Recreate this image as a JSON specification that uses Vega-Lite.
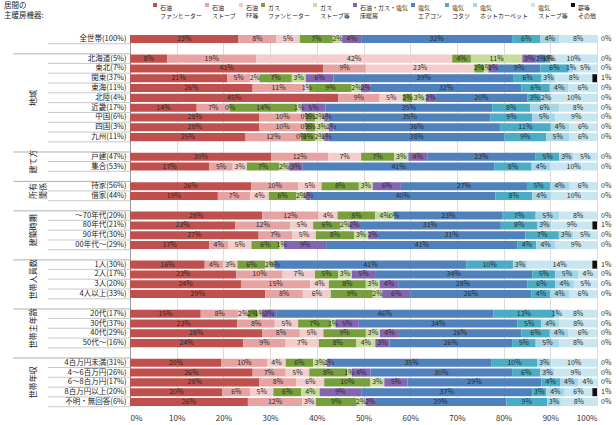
{
  "$schema": "https://vega.github.io/schema/vega-lite/v6.json",
  "width": 467,
  "height": 371,
  "autosize": {"type": "none"},
  "padding": {"left": 130, "top": 35, "right": 19, "bottom": 19},
  "config": {"font": "Noto Sans CJK JP", "view": {"stroke": null}},
  "data": {"values": [
    {"r": "全世帯(100%)", "a": 0.23, "b": 0.08, "c": 0.05, "d": 0.07, "e": 0.02, "f": 0.04, "g": 0.32, "h": 0.06, "i": 0.04, "j": 0.08, "k": 0.0},
    {"r": "北海道(5%)", "a": 0.08, "b": 0.19, "c": 0.42, "d": 0.04, "e": 0.11, "f": 0.03, "g": 0.02, "h": 0.01, "i": 0.0, "j": 0.10, "k": 0.0},
    {"r": "東北(7%)", "a": 0.41, "b": 0.09, "c": 0.23, "d": 0.02, "e": 0.01, "f": 0.02, "g": 0.09, "h": 0.06, "i": 0.01, "j": 0.05, "k": 0.0},
    {"r": "関東(37%)", "a": 0.21, "b": 0.05, "c": 0.02, "d": 0.07, "e": 0.03, "f": 0.06, "g": 0.39, "h": 0.06, "i": 0.03, "j": 0.08, "k": 0.01},
    {"r": "東海(11%)", "a": 0.26, "b": 0.11, "c": 0.01, "d": 0.09, "e": 0.02, "f": 0.02, "g": 0.32, "h": 0.06, "i": 0.04, "j": 0.06, "k": 0.0},
    {"r": "北陸(4%)", "a": 0.45, "b": 0.09, "c": 0.05, "d": 0.02, "e": 0.03, "f": 0.02, "g": 0.20, "h": 0.03, "i": 0.02, "j": 0.10, "k": 0.0},
    {"r": "近畿(17%)", "a": 0.14, "b": 0.07, "c": 0.0, "d": 0.14, "e": 0.01, "f": 0.05, "g": 0.35, "h": 0.08, "i": 0.06, "j": 0.08, "k": 0.0},
    {"r": "中国(6%)", "a": 0.28, "b": 0.10, "c": 0.0, "d": 0.02, "e": 0.02, "f": 0.01, "g": 0.35, "h": 0.09, "i": 0.05, "j": 0.09, "k": 0.0},
    {"r": "四国(3%)", "a": 0.28, "b": 0.10, "c": 0.0, "d": 0.02, "e": 0.03, "f": 0.01, "g": 0.36, "h": 0.11, "i": 0.04, "j": 0.06, "k": 0.0},
    {"r": "九州(11%)", "a": 0.25, "b": 0.12, "c": 0.0, "d": 0.03, "e": 0.02, "f": 0.01, "g": 0.38, "h": 0.09, "i": 0.05, "j": 0.06, "k": 0.0},
    {"r": "戸建(47%)", "a": 0.30, "b": 0.12, "c": 0.07, "d": 0.07, "e": 0.03, "f": 0.04, "g": 0.23, "h": 0.05, "i": 0.03, "j": 0.05, "k": 0.0},
    {"r": "集合(53%)", "a": 0.17, "b": 0.05, "c": 0.03, "d": 0.07, "e": 0.02, "f": 0.03, "g": 0.41, "h": 0.08, "i": 0.04, "j": 0.10, "k": 0.0},
    {"r": "持家(56%)", "a": 0.26, "b": 0.10, "c": 0.05, "d": 0.08, "e": 0.03, "f": 0.06, "g": 0.27, "h": 0.05, "i": 0.04, "j": 0.06, "k": 0.0},
    {"r": "借家(44%)", "a": 0.19, "b": 0.07, "c": 0.04, "d": 0.06, "e": 0.02, "f": 0.01, "g": 0.40, "h": 0.08, "i": 0.04, "j": 0.10, "k": 0.0},
    {"r": "～70年代(20%)", "a": 0.28, "b": 0.12, "c": 0.04, "d": 0.08, "e": 0.04, "f": 0.0, "g": 0.23, "h": 0.07, "i": 0.05, "j": 0.08, "k": 0.0},
    {"r": "80年代(21%)", "a": 0.23, "b": 0.12, "c": 0.05, "d": 0.06, "e": 0.02, "f": 0.02, "g": 0.31, "h": 0.08, "i": 0.03, "j": 0.09, "k": 0.01},
    {"r": "90年代(30%)", "a": 0.27, "b": 0.07, "c": 0.05, "d": 0.08, "e": 0.03, "f": 0.02, "g": 0.31, "h": 0.07, "i": 0.03, "j": 0.05, "k": 0.0},
    {"r": "00年代～(29%)", "a": 0.17, "b": 0.04, "c": 0.05, "d": 0.06, "e": 0.01, "f": 0.09, "g": 0.41, "h": 0.04, "i": 0.04, "j": 0.09, "k": 0.0},
    {"r": "1人(30%)", "a": 0.16, "b": 0.04, "c": 0.03, "d": 0.06, "e": 0.02, "f": 0.0, "g": 0.41, "h": 0.10, "i": 0.03, "j": 0.14, "k": 0.01},
    {"r": "2人(17%)", "a": 0.23, "b": 0.10, "c": 0.07, "d": 0.05, "e": 0.03, "f": 0.05, "g": 0.34, "h": 0.05, "i": 0.05, "j": 0.04, "k": 0.0},
    {"r": "3人(20%)", "a": 0.24, "b": 0.15, "c": 0.04, "d": 0.08, "e": 0.03, "f": 0.04, "g": 0.28, "h": 0.06, "i": 0.04, "j": 0.05, "k": 0.0},
    {"r": "4人以上(33%)", "a": 0.29, "b": 0.08, "c": 0.06, "d": 0.09, "e": 0.02, "f": 0.06, "g": 0.26, "h": 0.04, "i": 0.04, "j": 0.06, "k": 0.0},
    {"r": "20代(17%)", "a": 0.15, "b": 0.08, "c": 0.02, "d": 0.02, "e": 0.01, "f": 0.03, "g": 0.46, "h": 0.13, "i": 0.01, "j": 0.08, "k": 0.0},
    {"r": "30代(37%)", "a": 0.23, "b": 0.08, "c": 0.05, "d": 0.07, "e": 0.01, "f": 0.05, "g": 0.34, "h": 0.05, "i": 0.04, "j": 0.08, "k": 0.0},
    {"r": "40代(29%)", "a": 0.28, "b": 0.08, "c": 0.05, "d": 0.09, "e": 0.03, "f": 0.04, "g": 0.26, "h": 0.06, "i": 0.04, "j": 0.06, "k": 0.0},
    {"r": "50代～(16%)", "a": 0.24, "b": 0.09, "c": 0.07, "d": 0.08, "e": 0.04, "f": 0.03, "g": 0.26, "h": 0.05, "i": 0.05, "j": 0.08, "k": 0.0},
    {"r": "4百万円未満(31%)", "a": 0.20, "b": 0.10, "c": 0.04, "d": 0.06, "e": 0.03, "f": 0.01, "g": 0.35, "h": 0.10, "i": 0.03, "j": 0.10, "k": 0.0},
    {"r": "4～6百万円(26%)", "a": 0.26, "b": 0.07, "c": 0.05, "d": 0.08, "e": 0.01, "f": 0.04, "g": 0.30, "h": 0.06, "i": 0.03, "j": 0.09, "k": 0.0},
    {"r": "6～8百万円(17%)", "a": 0.28, "b": 0.08, "c": 0.06, "d": 0.10, "e": 0.03, "f": 0.05, "g": 0.29, "h": 0.04, "i": 0.04, "j": 0.04, "k": 0.0},
    {"r": "8百万円以上(20%)", "a": 0.20, "b": 0.06, "c": 0.05, "d": 0.06, "e": 0.04, "f": 0.09, "g": 0.37, "h": 0.03, "i": 0.04, "j": 0.06, "k": 0.01},
    {"r": "不明・無回答(6%)", "a": 0.26, "b": 0.12, "c": 0.03, "d": 0.09, "e": 0.02, "f": 0.02, "g": 0.29, "h": 0.09, "i": 0.03, "j": 0.08, "k": 0.0}
  ]},
  "transform": [
    {"fold": ["a", "b", "c", "d", "e", "f", "g", "h", "i", "j", "k"], "as": ["key", "value"]}
  ],
  "layer": [
    {
      "mark": {"type": "bar"},
      "encoding": {
        "y": {
          "field": "r", "type": "nominal",
          "scale": {
            "domain": ["全世帯(100%)", "_s1", "北海道(5%)", "東北(7%)", "関東(37%)", "東海(11%)", "北陸(4%)", "近畿(17%)", "中国(6%)", "四国(3%)", "九州(11%)", "_s2", "戸建(47%)", "集合(53%)", "_s3", "持家(56%)", "借家(44%)", "_s4", "～70年代(20%)", "80年代(21%)", "90年代(30%)", "00年代～(29%)", "_s5", "1人(30%)", "2人(17%)", "3人(20%)", "4人以上(33%)", "_s6", "20代(17%)", "30代(37%)", "40代(29%)", "50代～(16%)", "_s7", "4百万円未満(31%)", "4～6百万円(26%)", "6～8百万円(17%)", "8百万円以上(20%)", "不明・無回答(6%)"],
            "paddingInner": 0.18, "paddingOuter": 0
          },
          "axis": {
            "title": null,
            "labelExpr": "indexof(datum.value, '_s') == 0 ? '' : datum.value",
            "ticks": false, "labelPadding": 4, "labelFontSize": 7.5, "labelColor": "#222",
            "domainColor": "#9a9a9a", "grid": false
          }
        },
        "x": {
          "field": "value", "type": "quantitative", "stack": "normalize",
          "scale": {"domain": [0, 1], "nice": false},
          "axis": {
            "title": null, "format": ".0%",
            "values": [0, 0.1, 0.2, 0.3, 0.4, 0.5, 0.6, 0.7, 0.8, 0.9, 1],
            "domain": false, "ticks": false, "grid": true, "gridColor": "#dcdcdc",
            "labelFontSize": 8, "labelColor": "#333", "labelPadding": 8
          }
        },
        "color": {
          "field": "key", "type": "nominal",
          "scale": {
            "domain": ["a", "b", "c", "d", "e", "f", "g", "h", "i", "j", "k"],
            "range": ["#c0504d", "#e6a3a2", "#f2cdcc", "#77a03c", "#c6dc9c", "#8466b0", "#4f81bd", "#4bacc6", "#a5d5e6", "#c8e6f0", "#111111"]
          },
          "legend": {
            "orient": "none", "legendX": -126, "legendY": -33,
            "direction": "horizontal", "columns": 11,
            "title": ["居間の", "主暖房機器:"], "titleOrient": "left",
            "titleFontSize": 7.5, "titleFontWeight": "normal", "titleColor": "#222",
            "titlePadding": 108,
            "labelExpr": "[['石油','ファンヒーター'],['石油','ストーブ'],['石油','FF等'],['ガス','ファンヒーター'],['ガス','ストーブ等'],['石油・ガス・電気','床暖房'],['電気','エアコン'],['電気','コタツ'],['電気','ホットカーペット'],['電気','ストーブ等'],['薪等','その他']][indexof('abcdefghijk', datum.label)]",
            "labelFontSize": 6, "labelColor": "#222", "labelBaseline": "top",
            "symbolType": "square", "symbolSize": 16, "symbolStrokeWidth": 0,
            "columnPadding": 1, "labelOffset": 2
          }
        },
        "order": {"field": "key", "type": "nominal", "sort": "ascending"}
      }
    },
    {
      "mark": {"type": "text", "fontSize": 7, "color": "#2a2a2a"},
      "encoding": {
        "y": {"field": "r", "type": "nominal"},
        "x": {"field": "value", "type": "quantitative", "stack": "normalize", "bandPosition": 0.5},
        "detail": {"field": "key", "type": "nominal"},
        "order": {"field": "key", "type": "nominal", "sort": "ascending"},
        "text": {"field": "value", "type": "quantitative", "format": ".0%"},
        "opacity": {"condition": {"test": "datum.key == 'k'", "value": 0}, "value": 1}
      }
    },
    {
      "transform": [{"filter": "datum.key == 'k'"}],
      "mark": {"type": "text", "fontSize": 7, "color": "#2a2a2a", "align": "left", "dx": 4},
      "encoding": {
        "y": {"field": "r", "type": "nominal"},
        "x": {"datum": 1, "type": "quantitative"},
        "text": {"field": "value", "type": "quantitative", "format": ".0%"}
      }
    },
    {
      "transform": [{"filter": "datum.key == 'k'"}],
      "mark": {"type": "rule", "color": "#c8c8c8", "strokeWidth": 1},
      "encoding": {
        "y": {"field": "r", "type": "nominal", "bandPosition": 1.09},
        "x": {"datum": -0.176, "type": "quantitative"},
        "x2": {"datum": 0}
      }
    },
    {
      "data": {"values": [
        {"label": "地域", "first": "北海道(5%)", "anchor": "北陸(4%)", "n": 9},
        {"label": "建て方", "first": "戸建(47%)", "anchor": "戸建(47%)", "n": 2},
        {"label": "所有\n関係", "first": "持家(56%)", "anchor": "持家(56%)", "n": 2},
        {"label": "建築時期", "first": "～70年代(20%)", "anchor": "80年代(21%)", "n": 4},
        {"label": "世帯人員数", "first": "1人(30%)", "anchor": "2人(17%)", "n": 4},
        {"label": "世帯主年齢", "first": "20代(17%)", "anchor": "30代(37%)", "n": 4},
        {"label": "世帯年収", "first": "4百万円未満(31%)", "anchor": "6～8百万円(17%)", "n": 5}
      ]},
      "layer": [
        {
          "mark": {"type": "rule", "color": "#b0b0b0", "strokeWidth": 1},
          "encoding": {
            "y": {"field": "first", "type": "nominal", "bandPosition": -0.09},
            "x": {"datum": -0.25, "type": "quantitative"},
            "x2": {"datum": 0}
          }
        },
        {
          "transform": [{"filter": "datum.n % 2 == 1"}],
          "mark": {"type": "text", "angle": 270, "fontSize": 8, "color": "#222", "lineBreak": "\n", "align": "center", "baseline": "middle"},
          "encoding": {
            "y": {"field": "anchor", "type": "nominal", "bandPosition": 0.5},
            "x": {"datum": -0.205, "type": "quantitative"},
            "text": {"field": "label"}
          }
        },
        {
          "transform": [{"filter": "datum.n % 2 == 0"}],
          "mark": {"type": "text", "angle": 270, "fontSize": 8, "color": "#222", "lineBreak": "\n", "align": "center", "baseline": "middle"},
          "encoding": {
            "y": {"field": "anchor", "type": "nominal", "bandPosition": 1.09},
            "x": {"datum": -0.205, "type": "quantitative"},
            "text": {"field": "label"}
          }
        }
      ]
    }
  ]
}
